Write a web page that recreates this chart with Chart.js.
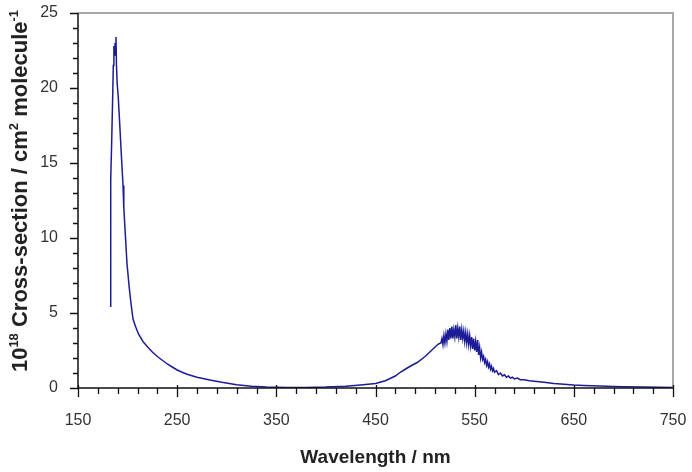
<!DOCTYPE html>
<html>
<head>
<meta charset="utf-8">
<script src="https://cdn.jsdelivr.net/npm/chart.js@4/dist/chart.umd.min.js"></script>
<style>
  html, body { margin: 0; padding: 0; background: #fff; }
  #wrap { width: 692px; height: 472px; }
</style>
</head>
<body>
<div id="wrap"><canvas id="chart"></canvas></div>
<script>
// Wavelength (nm) and cross-section (1e-18 cm2 molecule-1)
const wavelengths = [
  183.0, 183.0, 184.0, 185.0, 185.6, 186.2, 186.8, 187.3, 187.8, 188.3,
  188.8, 189.5, 190.5, 191.5, 192.4, 193.5, 194.5, 195.4, 196.2, 197.5,
  199.4, 201.5, 203.5, 205.5, 208, 211, 215.5, 220, 225, 230,
  235, 240, 245, 250, 255, 260, 270, 283, 295, 310,
  325, 340, 360, 380, 400, 420, 435, 450, 460, 470,
  475, 480, 485, 492, 500, 504, 508, 512, 514,
  516, 517, 518, 519, 520, 521, 522, 523, 524, 525,
  526, 527, 528, 529, 530, 531, 532, 533, 534, 535,
  536, 537, 538, 539, 540, 541, 542, 543, 544, 545,
  546, 547, 548, 549, 550, 551, 552, 553, 554, 555,
  556, 557, 558, 559, 560, 561, 562, 563, 564, 565,
  566, 567, 568, 569, 570, 572, 574, 576, 578, 580,
  582, 584, 586, 588, 590, 593, 596, 600, 605, 610,
  615, 620, 630, 640, 650, 660, 676, 690, 700, 720,
  750
];
const crossSections = [
  5.4, 13.9, 16.5, 19.5, 21.5, 22.8, 22.2, 23.0, 22.4, 23.4,
  21.5, 20.3, 19.5, 18.3, 17.2, 15.8, 14.6, 13.5, 12.0, 10.5,
  8.3, 6.8, 5.6, 4.6, 4.1, 3.6, 3.1, 2.75, 2.4, 2.1,
  1.85, 1.6, 1.4, 1.2, 1.05, 0.92, 0.72, 0.53, 0.38, 0.22,
  0.12, 0.07, 0.04, 0.04, 0.06, 0.12, 0.2, 0.3, 0.48, 0.8,
  1.05, 1.25, 1.45, 1.7, 2.1, 2.35, 2.6, 2.85, 2.95,
  3.0, 3.3, 2.9, 3.5, 3.0, 3.6, 3.1, 3.9, 3.2, 4.0,
  3.3, 4.1, 3.3, 3.9, 3.4, 4.2, 3.3, 4.0, 3.4, 4.1,
  3.2, 3.9, 3.3, 3.8, 3.1, 3.7, 3.0, 3.6, 2.9, 3.5,
  2.8, 3.4, 2.6, 3.3, 2.5, 3.1, 2.4, 3.2, 2.2, 2.7,
  2.0, 2.4, 1.9, 2.1, 1.7, 1.9, 1.5, 1.75, 1.4, 1.6,
  1.25, 1.45, 1.15, 1.3, 1.05, 1.15, 0.9, 1.0, 0.8, 0.88,
  0.72, 0.8, 0.66, 0.72, 0.6, 0.66, 0.55, 0.55, 0.48, 0.45,
  0.42, 0.38, 0.3, 0.25, 0.2, 0.17, 0.13, 0.1, 0.08, 0.06,
  0.04
];

const xTickValues = [150, 250, 350, 450, 550, 650, 750];
const yTickValues = [0, 5, 10, 15, 20, 25];
const xMinorStep = 20;
const yMinorStep = 1;

const xTitle = "Wavelength / nm";
// y title pieces: [text, superscript?]
const yTitleParts = [
  ["10", false], ["18", true], [" Cross-section / cm", false],
  ["2", true], [" molecule", false], ["-1", true]
];

const points = wavelengths.map((w, i) => ({ x: w, y: crossSections[i] }));

// axis lines, frame and tick marks
const axisPlugin = {
  id: "axisFrame",
  afterDraw(chart) {
    const ctx = chart.ctx;
    const a = chart.chartArea;
    const xs = chart.scales.x;
    const ys = chart.scales.y;
    ctx.save();
    // grey frame on top/right
    ctx.strokeStyle = "#a8a8a8";
    ctx.lineWidth = 2;
    ctx.beginPath();
    ctx.moveTo(a.left, a.top);
    ctx.lineTo(a.right, a.top);
    ctx.lineTo(a.right, a.bottom);
    ctx.stroke();
    // black axes
    ctx.strokeStyle = "#111";
    ctx.lineWidth = 1.5;
    ctx.beginPath();
    ctx.moveTo(a.left, a.top);
    ctx.lineTo(a.left, a.bottom);
    ctx.lineTo(a.right, a.bottom);
    ctx.stroke();
    ctx.lineWidth = 1.3;
    ctx.beginPath();
    for (let v = xs.min; v <= xs.max + 0.001; v += xMinorStep) {
      const px = Math.round(xs.getPixelForValue(v)) + 0.5;
      const major = xTickValues.includes(v);
      ctx.moveTo(px, a.bottom - (major ? 3 : 0));
      ctx.lineTo(px, a.bottom + (major ? 9 : 6));
    }
    for (let v = ys.min; v <= ys.max + 0.001; v += yMinorStep) {
      const py = Math.round(ys.getPixelForValue(v)) + 0.5;
      const major = yTickValues.includes(v);
      ctx.moveTo(a.left, py);
      ctx.lineTo(a.left - (major ? 8 : 5), py);
    }
    ctx.stroke();

    // rotated y title with superscripts
    ctx.fillStyle = "#222";
    const base = "bold 22px 'Liberation Sans', Arial, sans-serif";
    const sup = "bold 13px 'Liberation Sans', Arial, sans-serif";
    let total = 0;
    yTitleParts.forEach(([t, s]) => {
      ctx.font = s ? sup : base;
      total += ctx.measureText(t).width;
    });
    ctx.translate(27, 191);
    ctx.rotate(-Math.PI / 2);
    ctx.textBaseline = "alphabetic";
    ctx.textAlign = "left";
    let x = -total / 2;
    yTitleParts.forEach(([t, s]) => {
      ctx.font = s ? sup : base;
      ctx.fillText(t, x, s ? -9 : 0);
      x += ctx.measureText(t).width;
    });
    ctx.restore();
  },
};

// keep the plot area where the reference has it
function noScalePadding(s) {
  s.paddingLeft = 0;
  s.paddingRight = 0;
  s.paddingTop = 0;
  s.paddingBottom = 0;
}

new Chart(document.getElementById("chart"), {
  type: "line",
  data: {
    datasets: [
      {
        data: points,
        borderColor: "#1c1c96",
        borderWidth: 1.5,
        pointRadius: 0,
        tension: 0,
        fill: false,
      },
    ],
  },
  options: {
    responsive: true,
    maintainAspectRatio: false,
    animation: false,
    layout: { autoPadding: false, padding: { top: 13, right: 19, left: 0, bottom: 0 } },
    plugins: {
      legend: { display: false },
      tooltip: { enabled: false },
    },
    scales: {
      x: {
        type: "linear",
        min: 150,
        max: 750,
        afterBuildTicks: (s) => { s.ticks = xTickValues.map((v) => ({ value: v })); },
        afterFit: (s) => { s.height = 84; noScalePadding(s); },
        grid: { display: false, drawTicks: false },
        border: { display: false },
        ticks: {
          padding: 23,
          maxRotation: 0,
          color: "#333",
          font: { family: "'Liberation Sans', Arial, sans-serif", size: 16 },
        },
        title: {
          display: true,
          text: xTitle,
          color: "#222",
          padding: { top: 0, bottom: 3 },
          font: { family: "'Liberation Sans', Arial, sans-serif", size: 19, weight: "bold" },
        },
      },
      y: {
        min: 0,
        max: 25,
        afterBuildTicks: (s) => { s.ticks = yTickValues.map((v) => ({ value: v })); },
        afterFit: (s) => { s.width = 78; noScalePadding(s); },
        grid: { display: false, drawTicks: false },
        border: { display: false },
        ticks: {
          padding: 20,
          color: "#333",
          font: { family: "'Liberation Sans', Arial, sans-serif", size: 16 },
        },
      },
    },
  },
  plugins: [axisPlugin],
});
</script>
</body>
</html>
